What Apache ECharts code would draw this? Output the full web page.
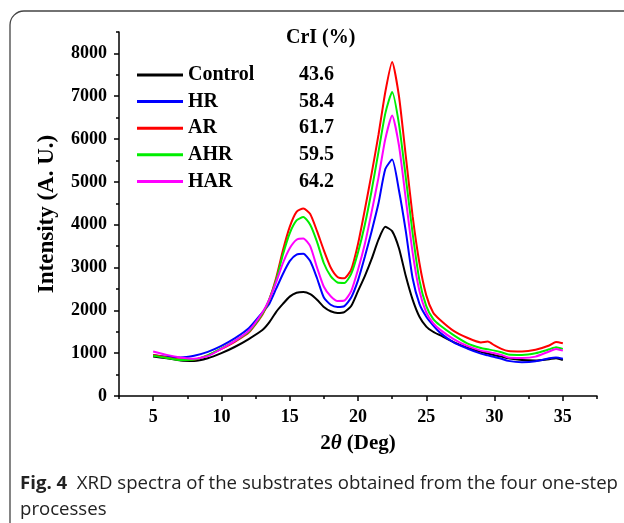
<!DOCTYPE html>
<html><head><meta charset="utf-8">
<script src="https://cdn.jsdelivr.net/npm/echarts@6/dist/echarts.min.js"></script>
<style>html,body{margin:0;padding:0;background:#fff}#c{width:624px;height:523px}</style>
</head><body><div id="c"></div>
<script>
// 2θ sample positions (deg)
const twoTheta = [5, 6, 7, 8, 9, 10, 11, 12, 13, 13.5, 14, 14.5, 15, 15.5, 16, 16.5, 17, 17.5, 18, 18.5, 19, 19.5, 20, 20.5, 21, 21.5, 22, 22.5, 23, 23.5, 24, 24.5, 25, 25.5, 26, 27, 28, 29, 29.5, 30, 30.5, 31, 32, 33, 34, 34.5, 35];
const control = [920, 880, 830, 820, 880, 1000, 1150, 1330, 1540, 1720, 1960, 2150, 2320, 2410, 2430, 2380, 2250, 2080, 1980, 1940, 1960, 2100, 2450, 2800, 3200, 3650, 3950, 3850, 3450, 2800, 2250, 1850, 1620, 1500, 1420, 1260, 1130, 1030, 990, 950, 920, 880, 840, 830, 860, 880, 840];
const hr = [960, 920, 900, 940, 1030, 1170, 1350, 1580, 1950, 2150, 2500, 2850, 3150, 3300, 3320, 3150, 2750, 2300, 2130, 2080, 2100, 2300, 2700, 3250, 3850, 4500, 5300, 5520, 4800, 3850, 2750, 2150, 1850, 1650, 1480, 1250, 1110, 990, 950, 910, 870, 820, 790, 810, 880, 900, 870];
const ar = [960, 900, 850, 850, 950, 1100, 1270, 1480, 1900, 2250, 2750, 3400, 3950, 4300, 4380, 4250, 3850, 3400, 3000, 2780, 2750, 2950, 3550, 4350, 5200, 6100, 7100, 7800, 7000, 5600, 4200, 3100, 2350, 1950, 1780, 1520, 1360, 1250, 1270, 1180, 1100, 1050, 1040, 1080, 1180, 1260, 1230];
const ahr = [940, 890, 840, 850, 950, 1110, 1290, 1500, 1920, 2250, 2700, 3300, 3800, 4100, 4180, 4000, 3600, 3100, 2800, 2650, 2640, 2850, 3350, 4000, 4800, 5700, 6600, 7100, 6350, 5100, 3800, 2700, 2100, 1800, 1650, 1420, 1230, 1120, 1090, 1060, 1020, 970, 960, 1000, 1090, 1140, 1100];
const har = [1040, 960, 900, 870, 930, 1100, 1290, 1520, 1950, 2250, 2650, 3100, 3450, 3650, 3680, 3500, 3000, 2550, 2330, 2220, 2230, 2450, 2950, 3550, 4300, 5100, 6000, 6550, 5850, 4600, 3350, 2450, 1950, 1700, 1550, 1330, 1170, 1060, 1030, 1000, 960, 900, 890, 920, 1040, 1100, 1060];

const seriesNames = ['Control', 'HR', 'AR', 'AHR', 'HAR'];
const crI = ['43.6', '58.4', '61.7', '59.5', '64.2'];
const seriesColors = ['#000000', '#0000ff', '#ff0000', '#00ee00', '#ff00ff'];
const xTickLabels = [5, 10, 15, 20, 25, 30, 35];
const xMinorTicks = [2.5, 7.5, 12.5, 17.5, 22.5, 27.5, 32.5, 37.5];
const yTickLabels = [0, 1000, 2000, 3000, 4000, 5000, 6000, 7000, 8000];
const yMinorTicks = [500, 1500, 2500, 3500, 4500, 5500, 6500, 7500, 8500];

const allValues = [control, hr, ar, ahr, har];
const SERIF = '"Liberation Serif", "Times New Roman", serif';

const chart = echarts.init(document.getElementById('c'), null, {renderer: 'canvas'});
const axisCol = '#000';
const labelStyle = {color: '#000', fontFamily: SERIF, fontWeight: 'bold', fontSize: 18,
  formatter: function (v) { return String(v); }};

const option = {
  animation: false,
  backgroundColor: '#fff',
  grid: {left: 119, right: 27, top: 32, bottom: 127, containLabel: false, outerBoundsMode: 'none'},
  xAxis: [
    {
      type: 'value', min: 2.5, max: 37.5, position: 'bottom',
      axisLine: {lineStyle: {color: axisCol, width: 1.5}},
      axisTick: {customValues: xTickLabels, length: 5, lineStyle: {color: axisCol, width: 1.5}},
      axisLabel: Object.assign({customValues: xTickLabels, margin: 12}, labelStyle),
      splitLine: {show: false},
      name: '{a|2}{i|θ}{a| (Deg)}',
      nameLocation: 'middle', nameGap: 37,
      nameTextStyle: {
        rich: {
          a: {fontFamily: SERIF, fontWeight: 'bold', fontSize: 21, color: '#000'},
          i: {fontFamily: SERIF, fontWeight: 'bold', fontStyle: 'italic', fontSize: 21, color: '#000'}
        }
      }
    },
    {
      type: 'value', min: 2.5, max: 37.5, position: 'bottom', offset: 0,
      axisLine: {show: false},
      axisTick: {customValues: xMinorTicks, length: 3, lineStyle: {color: axisCol, width: 1.5}},
      axisLabel: {show: false},
      splitLine: {show: false}
    }
  ],
  yAxis: [
    {
      type: 'value', min: 0, max: 8500, position: 'left',
      axisLine: {show: true, lineStyle: {color: axisCol, width: 1.5}},
      axisTick: {show: true, customValues: yTickLabels, length: 5, lineStyle: {color: axisCol, width: 1.5}},
      axisLabel: Object.assign({customValues: yTickLabels, margin: 12}, labelStyle),
      splitLine: {show: false},
      name: 'Intensity (A. U.)',
      nameLocation: 'middle', nameRotate: 90, nameGap: 60,
      nameTextStyle: {fontFamily: SERIF, fontWeight: 'bold', fontSize: 23, color: '#000'}
    },
    {
      type: 'value', min: 0, max: 8500, position: 'left', offset: 0,
      axisLine: {show: false},
      axisTick: {show: true, customValues: yMinorTicks, length: 3, lineStyle: {color: axisCol, width: 1.5}},
      axisLabel: {show: false},
      splitLine: {show: false}
    }
  ],
  legend: {
    orient: 'vertical', left: 137, top: 65, padding: 0,
    itemWidth: 46, itemHeight: 3, itemGap: 6.6, icon: 'rect',
    selectedMode: false,
    data: seriesNames,
    formatter: function (name) {
      return '{n|' + name + '}{v|' + crI[seriesNames.indexOf(name)] + '}';
    },
    textStyle: {
      fontFamily: SERIF, fontWeight: 'bold', fontSize: 20, color: '#000',
      rich: {
        n: {width: 111, fontFamily: SERIF, fontWeight: 'bold', fontSize: 20, color: '#000', lineHeight: 22},
        v: {fontFamily: SERIF, fontWeight: 'bold', fontSize: 20, color: '#000', lineHeight: 22}
      }
    }
  },
  graphic: [
    {type: 'rect', shape: {x: 10, y: 11, width: 700, height: 620, r: 14},
     style: {fill: 'none', stroke: '#444', lineWidth: 1.3}, silent: true},
    {type: 'text', left: 286, top: 28,
     style: {text: 'CrI (%)', fontFamily: SERIF, fontWeight: 'bold', fontSize: 20, fill: '#000'}},
    {type: 'text', left: 20, top: 471,
     style: {
       text: '{b|Fig. 4}  XRD spectra of the substrates obtained from the four one-step\nprocesses',
       fontFamily: '"Open Sans", sans-serif', fontSize: 18.6, fill: '#222', lineHeight: 26,
       rich: {b: {fontFamily: '"Open Sans", sans-serif', fontSize: 18.6, fontWeight: 'bold', fill: '#222', lineHeight: 26}}
     }}
  ],
  series: seriesNames.map(function (name, k) {
    return {
      name: name, type: 'line', showSymbol: false, symbol: 'none', smooth: 0.2,
      xAxisIndex: 0, yAxisIndex: 0,
      color: seriesColors[k],
      lineStyle: {width: 2, color: seriesColors[k]},
      data: twoTheta.map(function (x, i) { return [x, allValues[k][i]]; })
    };
  })
};
chart.setOption(option);
</script>
</body></html>
